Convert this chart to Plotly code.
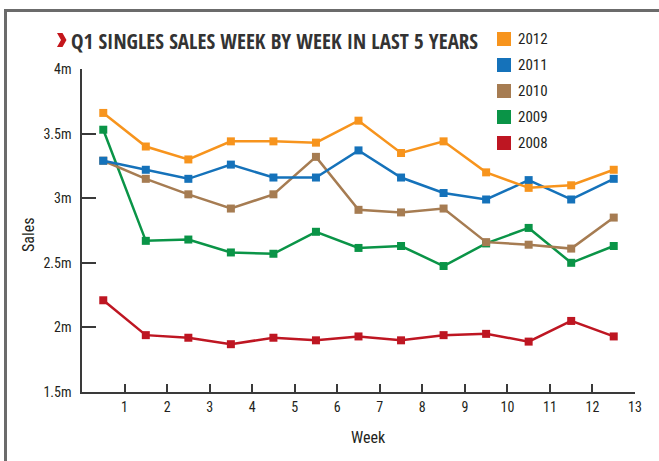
import plotly.graph_objects as go

# ---------------- data ----------------
weeks = [0.5, 1.5, 2.5, 3.5, 4.5, 5.5, 6.5, 7.5, 8.5, 9.5, 10.5, 11.5, 12.5]
series_names = ["2012", "2011", "2010", "2009", "2008"]
sales_2012 = [3.66, 3.40, 3.30, 3.44, 3.44, 3.43, 3.60, 3.35, 3.44, 3.20, 3.08, 3.10, 3.22]
sales_2011 = [3.29, 3.22, 3.15, 3.26, 3.16, 3.16, 3.37, 3.16, 3.04, 2.99, 3.14, 2.99, 3.15]
sales_2010 = [3.29, 3.15, 3.03, 2.92, 3.03, 3.32, 2.91, 2.89, 2.92, 2.66, 2.64, 2.61, 2.85]
sales_2009 = [3.53, 2.67, 2.68, 2.58, 2.57, 2.74, 2.615, 2.63, 2.475, 2.65, 2.77, 2.50, 2.63]
sales_2008 = [2.21, 1.94, 1.92, 1.87, 1.92, 1.90, 1.93, 1.90, 1.94, 1.95, 1.89, 2.05, 1.93]
series_values = [sales_2012, sales_2011, sales_2010, sales_2009, sales_2008]
series_colors = ["#F7941D", "#1572BA", "#A67C52", "#0A9447", "#BE1622"]

x_tickvals = list(range(1, 14))
y_tickvals = [1.5, 2, 2.5, 3, 3.5, 4]
y_ticktext = ["1.5m", "2m", "2.5m", "3m", "3.5m", "4m"]

title_text = "Q1 SINGLES SALES WEEK BY WEEK IN LAST 5 YEARS"

# ---------------- layout geometry ----------------
W, H = 659, 461
ML, MR, MT, MB = 82, 24, 69, 69
PW, PH = W - ML - MR, H - MT - MB

def px(x):
    return (x - ML) / PW

def py(y):
    return (H - MB - y) / PH

FONT = "Roboto Condensed, Open Sans, sans-serif"
TITLE_FONT = "Open Sans Condensed, Roboto Condensed, sans-serif"
TXT = "#231F20"
AX = "#3a3a3a"

fig = go.Figure()
# draw 2008 first so later years sit on top as in the original
for name, vals, col in reversed(list(zip(series_names, series_values, series_colors))):
    fig.add_trace(go.Scatter(
        x=weeks, y=vals, mode="lines+markers", name=name,
        line=dict(color=col, width=2.5),
        marker=dict(symbol="square", size=8, color=col),
        showlegend=False,
    ))

shapes = []
annotations = []

# frame (top and left border)
shapes.append(dict(type="line", xref="paper", yref="paper",
                   x0=px(4), x1=px(W + 5), y0=py(10.5), y1=py(10.5),
                   line=dict(color="#6b6b6b", width=3)))
shapes.append(dict(type="line", xref="paper", yref="paper",
                   x0=px(5.5), x1=px(5.5), y0=py(9), y1=py(H + 5),
                   line=dict(color="#6b6b6b", width=3)))

# red chevron before the title
chev = [(57, 33), (62.5, 33), (66.5, 40), (62.5, 47), (57, 47), (61, 40)]
path = "M " + " L ".join(f"{px(a):.5f},{py(b):.5f}" for a, b in chev) + " Z"
shapes.append(dict(type="path", xref="paper", yref="paper", path=path,
                   fillcolor="#C4161C", line=dict(width=0)))

annotations.append(dict(
    text="<b>" + title_text + "</b>", xref="paper", yref="paper",
    x=px(69), y=py(40.5), xanchor="left", yanchor="middle", showarrow=False,
    font=dict(family=TITLE_FONT, size=21, color="#333333"),
))

# legend (manual, squares + labels)
leg_y = [39, 65, 91, 117, 143]
for name, col, ly in zip(series_names, series_colors, leg_y):
    shapes.append(dict(type="rect", xref="paper", yref="paper",
                       x0=px(497), x1=px(511), y0=py(ly - 7), y1=py(ly + 7),
                       fillcolor=col, line=dict(width=0)))
    annotations.append(dict(
        text=name, xref="paper", yref="paper", x=px(516), y=py(ly),
        xanchor="left", yanchor="middle", showarrow=False,
        font=dict(family=FONT, size=15, color=TXT),
    ))

# axis titles
annotations.append(dict(text="Week", xref="paper", yref="paper",
                        x=px(368), y=py(437), xanchor="center", yanchor="middle",
                        showarrow=False, font=dict(family=FONT, size=16, color=TXT)))
annotations.append(dict(text="Sales", xref="paper", yref="paper",
                        x=px(29), y=py(235), xanchor="center", yanchor="middle",
                        textangle=-90, showarrow=False,
                        font=dict(family=FONT, size=16, color=TXT)))

fig.update_layout(
    width=W, height=H,
    margin=dict(l=ML, r=MR, t=MT, b=MB),
    paper_bgcolor="white", plot_bgcolor="white",
    font=dict(family=FONT, size=14, color=TXT),
    shapes=shapes, annotations=annotations,
    showlegend=False,
)
fig.update_xaxes(
    range=[0, 13], tickvals=x_tickvals, ticks="inside", ticklen=8,
    tickwidth=1.5, tickcolor=AX, showline=True, linecolor=AX, linewidth=1.5,
    showgrid=False, zeroline=False, tickfont=dict(family=FONT, size=14, color=TXT),
    ticklabelstandoff=1, automargin=False,
)
fig.update_yaxes(
    range=[1.5, 4], tickvals=y_tickvals, ticktext=y_ticktext, ticks="inside",
    ticklen=14, tickwidth=1.5, tickcolor=AX, showline=True, linecolor=AX,
    linewidth=1.5, showgrid=False, zeroline=False,
    tickfont=dict(family=FONT, size=14, color=TXT), ticklabelstandoff=6, automargin=False,
)

fig.write_html("out.html", config={"displayModeBar": False},
               post_script="document.body.style.margin='0px';document.body.style.overflow='hidden';")
